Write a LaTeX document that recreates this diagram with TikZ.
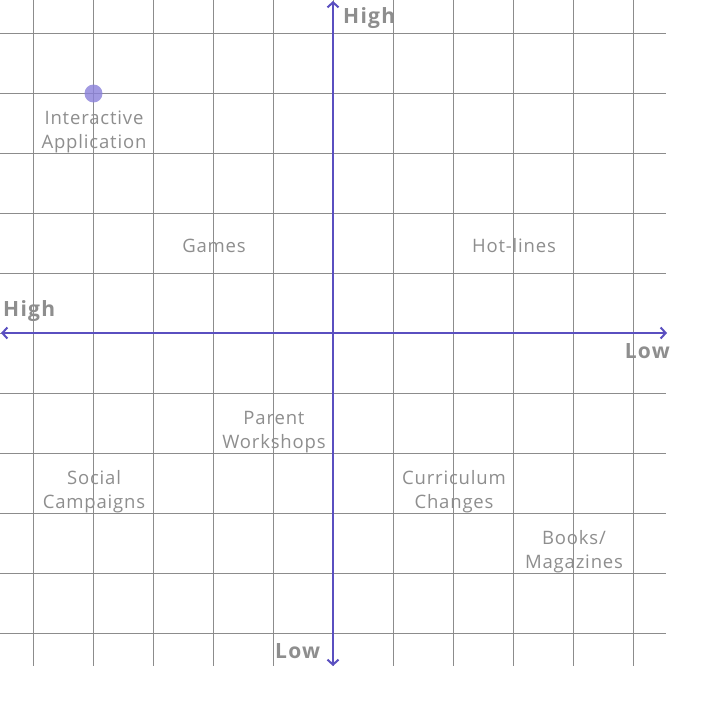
\documentclass[tikz,border=0pt]{standalone}
\usepackage{fontspec}
\setmainfont{Open Sans}
\usetikzlibrary{arrows.meta}
\definecolor{gridc}{HTML}{8C8C8C}
\definecolor{axisc}{HTML}{5A4FC0}
\definecolor{txtc}{HTML}{8E8E8E}
\definecolor{dotc}{HTML}{8A80DA}
\tikzset{
  gridline/.style={draw=gridc, line width=0.8pt},
  axisline/.style={draw=axisc, line width=2pt, -{Straight Barb[length=5pt,width=11pt,line width=2pt]}},
  lbl/.style={text=txtc, font=\fontsize{18.5}{24}\selectfont\addfontfeature{LetterSpace=4.5}, align=center, inner sep=0pt},
  axlbl/.style={text=txtc, font=\fontsize{21}{24}\selectfont\bfseries\addfontfeature{LetterSpace=6}, inner sep=0pt},
}
\begin{document}
\begin{tikzpicture}[x=1pt,y=-1pt]
\useasboundingbox (0,0) rectangle (717,717);
\fill[white] (0,0) rectangle (717,717);
\foreach \k in {0,...,10}{
  \draw[gridline] ({33+60*\k},0) -- ({33+60*\k},666);
  \draw[gridline] (0,{33+60*\k}) -- (666,{33+60*\k});
}
\coordinate (ytop) at (333,1);
\coordinate (ybot) at (333,666);
\coordinate (xl) at (1,333);
\coordinate (xr) at (667,333);
\coordinate (orig) at (333,333);
\draw[axisline] (orig) -- (ytop);
\draw[axisline] (orig) -- (ybot);
\draw[axisline] (orig) -- (xl);
\draw[axisline] (orig) -- (xr);
\node[axlbl, anchor=west] (hightop) at (343,18) {High};
\node[axlbl, anchor=west] (highleft) at (3,311) {High};
\node[axlbl, anchor=east] (lowright) at (670,351) {Low};
\node[axlbl, anchor=west] (lowbot) at (275,651) {Low};
\fill[dotc, opacity=0.8] (93.5,93.5) circle (9);
\node[lbl] (ia) at (94,132) {Interactive\\Application};
\node[lbl] (games) at (214,246) {Games};
\node[lbl] (hot) at (514,246) {Hot-lines};
\node[lbl] (pw) at (274,432) {Parent\\Workshops};
\node[lbl] (sc) at (94,492) {Social\\Campaigns};
\node[lbl] (cc) at (454,492) {Curriculum\\Changes};
\node[lbl] (bm) at (574,552) {Books/\\Magazines};
\end{tikzpicture}
\end{document}
